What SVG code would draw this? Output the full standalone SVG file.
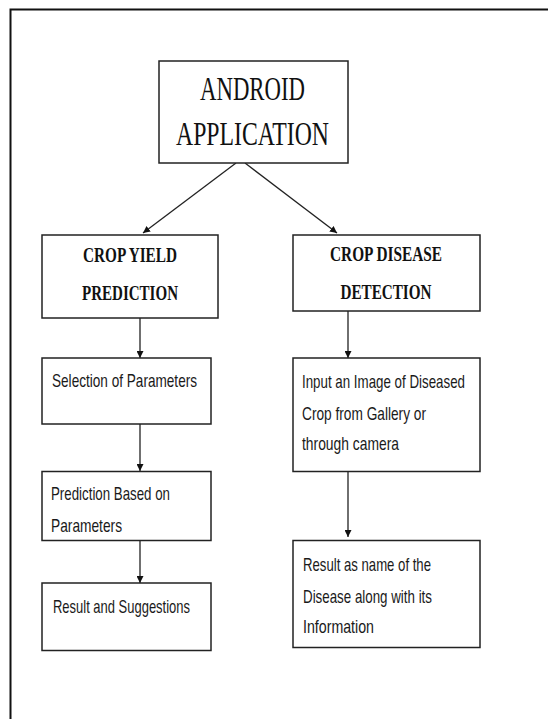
<svg xmlns="http://www.w3.org/2000/svg" width="548" height="719" viewBox="0 0 548 719">
<style>
.box{fill:#fff;stroke:#222;stroke-width:1.5}
.conn{stroke:#222;stroke-width:1.3;fill:none}
.title{font-family:"Liberation Serif","Times New Roman",serif;fill:#111;text-anchor:middle}
.head{font-family:"Liberation Serif","Times New Roman",serif;font-weight:bold;font-size:22px;fill:#111;text-anchor:middle}
.body{font-family:"Liberation Sans",Arial,sans-serif;font-size:19px;fill:#1a1a1a}
</style>
<defs>
<marker id="arr" viewBox="0 0 10 10" refX="10" refY="5" markerWidth="7" markerHeight="7" markerUnits="userSpaceOnUse" orient="auto">
<path d="M0,0 L10,5 L0,10 z" fill="#111"/>
</marker>
</defs>
<rect width="548" height="719" fill="#fff"/>
<path d="M10.5,730 L10.5,9.5 L560,9.5" fill="none" stroke="#111" stroke-width="2"/>
<g id="connectors">
<line class="conn" x1="236" y1="163" x2="143" y2="233" marker-end="url(#arr)"/>
<line class="conn" x1="245" y1="163" x2="337" y2="233" marker-end="url(#arr)"/>
<line class="conn" x1="140" y1="318" x2="140" y2="358" marker-end="url(#arr)"/>
<line class="conn" x1="140" y1="424" x2="140" y2="471" marker-end="url(#arr)"/>
<line class="conn" x1="140" y1="541" x2="140" y2="583" marker-end="url(#arr)"/>
<line class="conn" x1="348" y1="311" x2="348" y2="358" marker-end="url(#arr)"/>
<line class="conn" x1="348" y1="472" x2="348" y2="537" marker-end="url(#arr)"/>
</g>
<g id="android">
<rect class="box" x="159" y="61" width="189" height="102"/>
<text class="title" x="252.5" y="100" font-size="34" textLength="105" lengthAdjust="spacingAndGlyphs">ANDROID</text>
<text class="title" x="252.5" y="145" font-size="34" textLength="153" lengthAdjust="spacingAndGlyphs">APPLICATION</text>
</g>
<g id="yield">
<rect class="box" x="42" y="235" width="176" height="83"/>
<text class="head" x="130" y="262" textLength="94" lengthAdjust="spacingAndGlyphs">CROP YIELD</text>
<text class="head" x="130" y="300" textLength="96" lengthAdjust="spacingAndGlyphs">PREDICTION</text>
</g>
<g id="disease">
<rect class="box" x="293" y="235" width="187" height="76"/>
<text class="head" x="386" y="261" textLength="112" lengthAdjust="spacingAndGlyphs">CROP DISEASE</text>
<text class="head" x="386" y="299" textLength="91" lengthAdjust="spacingAndGlyphs">DETECTION</text>
</g>
<g id="selection">
<rect class="box" x="42" y="358" width="169" height="66"/>
<text class="body" x="52" y="387" textLength="145" lengthAdjust="spacingAndGlyphs">Selection of Parameters</text>
</g>
<g id="prediction">
<rect class="box" x="42" y="471.5" width="169" height="69"/>
<text class="body" x="51" y="500" textLength="119" lengthAdjust="spacingAndGlyphs">Prediction Based on</text>
<text class="body" x="51" y="531.5" textLength="71" lengthAdjust="spacingAndGlyphs">Parameters</text>
</g>
<g id="result">
<rect class="box" x="42" y="583" width="169" height="67.5"/>
<text class="body" x="53" y="613" textLength="137" lengthAdjust="spacingAndGlyphs">Result and Suggestions</text>
</g>
<g id="input">
<rect class="box" x="293" y="358" width="187" height="113.5"/>
<text class="body" x="302" y="388" textLength="163" lengthAdjust="spacingAndGlyphs">Input an Image of Diseased</text>
<text class="body" x="302" y="420" textLength="124" lengthAdjust="spacingAndGlyphs">Crop from Gallery or</text>
<text class="body" x="302" y="450" textLength="97" lengthAdjust="spacingAndGlyphs">through camera</text>
</g>
<g id="disease-result">
<rect class="box" x="293" y="540.5" width="187" height="107"/>
<text class="body" x="303" y="571" textLength="128" lengthAdjust="spacingAndGlyphs">Result as name of the</text>
<text class="body" x="303" y="603" textLength="129" lengthAdjust="spacingAndGlyphs">Disease along with its</text>
<text class="body" x="303" y="633" textLength="71" lengthAdjust="spacingAndGlyphs">Information</text>
</g>
</svg>
